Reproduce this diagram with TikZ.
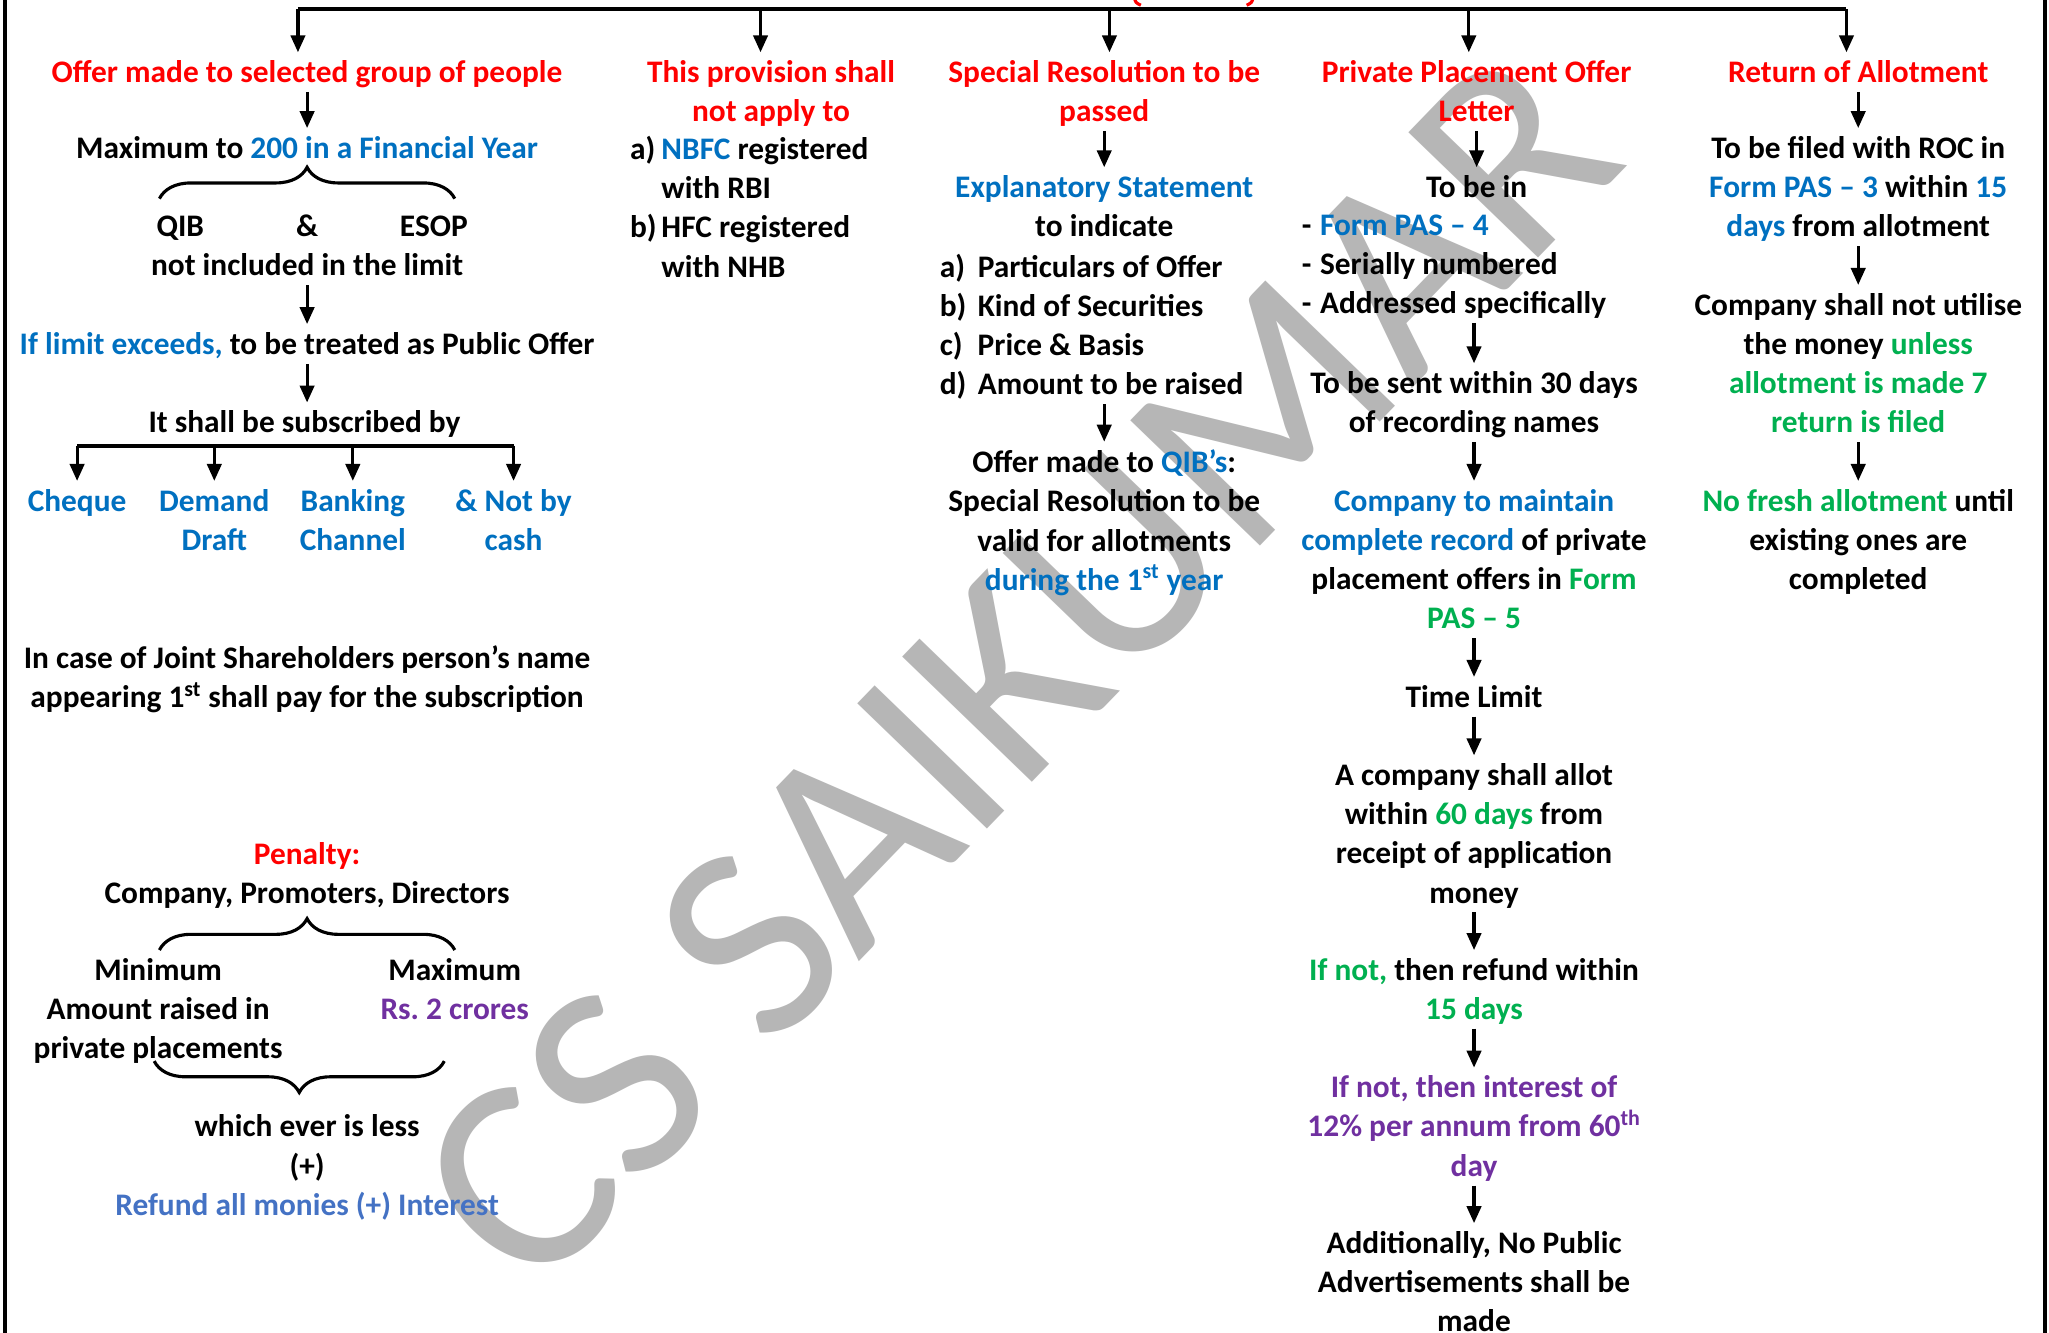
\documentclass[tikz,border=0pt]{standalone}
\usepackage{fontspec}
\setmainfont{Carlito}
\usetikzlibrary{arrows.meta,decorations.pathreplacing}
\definecolor{hred}{HTML}{FF0000}
\definecolor{hblue}{HTML}{0070C0}
\definecolor{hgreen}{HTML}{00B050}
\definecolor{hpurple}{HTML}{7030A0}
\definecolor{hsoft}{HTML}{4472C4}
\definecolor{wmgray}{HTML}{B6B6B6}
\newcommand\tb[1]{\textcolor{hblue}{#1}}
\newcommand\tg[1]{\textcolor{hgreen}{#1}}
\newcommand\tp[1]{\textcolor{hpurple}{#1}}
\newcommand\linestrut{\rule[-7pt]{0pt}{30pt}}
\newcommand\lbl[2]{\makebox[#1][l]{#2}}
\frenchspacing
\begin{document}
\begin{tikzpicture}[x=1pt,y=-1pt,
  txt/.style={font=\fontsize{24}{30}\selectfont\bfseries, align=center,
    inner sep=0pt, anchor=north,
    execute at begin node=\linestrut, execute at end node=\linestrut},
  ml/.style={yshift=-6pt},
  lst/.style={txt, ml, align=left, anchor=north west},
  head/.style={txt, text=hred},
  arr/.style={line width=2.4pt, -{Triangle[length=13pt,width=11pt]}},
  arrm/.style={arr, shorten >=6pt},
  bar/.style={line width=3.4pt},
  brc/.style={line width=2.4pt, decorate, decoration={brace, amplitude=24pt}},
  wm/.style={font=\fontsize{215}{215}\selectfont, text=wmgray, inner sep=0pt}]

\useasboundingbox (0,0) rectangle (1568,1020);
\fill[white] (0,0) rectangle (1568,1020);

% watermark behind everything
\node[wm, rotate=46] (wmk) at (778,512) {CS SAIKUMAR};

% frame sides
\draw[line width=3pt] (4,0) -- (4,1020);
\draw[line width=3pt] (1565,0) -- (1565,1020);

% tips of the title line above the bar
\draw[hred, line width=2.4pt] (868,-2) .. controls (869,2) .. (873,4);
\draw[hred, line width=2.4pt] (959,-2) .. controls (958,2) .. (954,4);

% ---------------- column 1 ----------------
\node[head] (h1) at (235,40) {Offer made to selected group of people};
\node[txt] (max) at (235,98) {Maximum to \tb{200 in a Financial Year}};
\coordinate (bLa) at (122,152);
\coordinate (bLb) at (348,152);
\node[txt] (qib) at (138,158) {QIB};
\node[txt] (amp) at (235,158) {\&};
\node[txt] (esop) at (332,158) {ESOP};
\node[txt] (notinc) at (235,188) {not included in the limit};
\node[txt] (exceed) at (235,248) {\tb{If limit exceeds,} to be treated as Public Offer};
\node[txt] (subs) at (233,308) {It shall be subscribed by};
\coordinate (br) at (233,341);
\node[txt, text=hblue] (cheque) at (59,368) {Cheque};
\node[txt, ml, text=hblue] (demand) at (164,368) {Demand\\Draft};
\node[txt, ml, text=hblue] (banking) at (270,368) {Banking\\Channel};
\node[txt, ml, text=hblue] (notcash) at (393,368) {\& Not by\\cash};
\node[txt, ml] (joint) at (235,488) {In case of Joint Shareholders person’s name\\appearing 1\textsuperscript{st} shall pay for the subscription};

\node[head] (pen) at (235,638) {Penalty:};
\node[txt] (cpd) at (235,668) {Company, Promoters, Directors};
\coordinate (pLa) at (122,727);
\coordinate (pLb) at (348,727);
\node[txt, ml] (mini) at (121,727) {Minimum\\Amount raised in\\private placements};
\node[txt, ml] (maxi) at (348,727) {Maximum\\\tp{Rs. 2 crores}};
\coordinate (qLa) at (118,812);
\coordinate (qLb) at (340,812);
\node[txt, ml] (less) at (235,847) {which ever is less\\(+)\\\textcolor{hsoft}{Refund all monies (+) Interest}};

% ---------------- column 2 ----------------
\node[head, ml] (h2) at (590,40) {This provision shall\\not apply to};
\node[lst] (l2) at (482,98) {\lbl{24pt}{a)}\tb{NBFC} registered\\\hspace*{24pt}with RBI\\\lbl{24pt}{b)}HFC registered\\\hspace*{24pt}with NHB};

% ---------------- column 3 ----------------
\node[head, ml] (h3) at (845,40) {Special Resolution to be\\passed};
\node[txt, ml] (expl) at (845,128) {\tb{Explanatory Statement}\\to indicate};
\node[lst] (l3) at (719,188) {\lbl{29pt}{a)}Particulars of Offer\\\lbl{29pt}{b)}Kind of Securities\\\lbl{29pt}{c)}Price \& Basis\\\lbl{29pt}{d)}Amount to be raised};
\node[txt, ml] (qibs) at (845,338) {Offer made to \tb{QIB’s}:\\Special Resolution to be\\valid for allotments\\\tb{during the 1\textsuperscript{st} year}};

% ---------------- column 4 ----------------
\node[head, ml] (h4) at (1130,40) {Private Placement Offer\\Letter};
\node[txt] (tobein) at (1130,128) {To be in};
\node[lst] (l4) at (996,158) {\lbl{14pt}{-}\tb{Form PAS – 4}\\\lbl{14pt}{-}Serially numbered\\\lbl{14pt}{-}Addressed specifically};
\node[txt, ml] (sent) at (1128,278) {To be sent within 30 days\\of recording names};
\node[txt, ml] (maint) at (1128,368) {\tb{Company to maintain}\\\tb{complete record} of private\\placement offers in \tg{Form}\\\tg{PAS – 5}};
\node[txt] (tlim) at (1128,518) {Time Limit};
\node[txt, ml] (allot) at (1128,578) {A company shall allot\\within \tg{60 days} from\\receipt of application\\money};
\node[txt, ml] (refund) at (1128,727) {\tg{If not,} then refund within\\\tg{15 days}};
\node[txt, ml, text=hpurple] (intr) at (1128,817) {If not, then interest of\\12\% per annum from 60\textsuperscript{th}\\day};
\node[txt, ml] (addl) at (1128,936) {Additionally, No Public\\Advertisements shall be\\made};

% ---------------- column 5 ----------------
\node[head] (h5) at (1422,40) {Return of Allotment};
\node[txt, ml] (roc) at (1422,98) {To be filed with ROC in\\\tb{Form PAS – 3} within \tb{15}\\\tb{days} from allotment};
\node[txt, ml] (util) at (1422,218) {Company shall not utilise\\the money \tg{unless}\\\tg{allotment is made 7}\\\tg{return is filed}};
\node[txt, ml] (fresh) at (1422,368) {\tg{No fresh allotment} until\\existing ones are\\completed};

% ---------------- top bar ----------------
\coordinate (t1) at (228,7);
\coordinate (t2) at (582,7);
\coordinate (t3) at (849,7);
\coordinate (t4) at (1124,7);
\coordinate (t5) at (1413,7);
\draw[bar] (t1) -- (t5);
\draw[arr] (t1) -- (t1 |- h1.north);
\draw[arrm] (t2) -- (t2 |- h2.north);
\draw[arrm] (t3) -- (t3 |- h3.north);
\draw[arrm] (t4) -- (t4 |- h4.north);
\draw[arr] (t5) -- (t5 |- h5.north);

% ---------------- connectors ----------------
\draw[arr] (h1.south) -- (h1.south |- max.north);
\draw[brc] (bLa) -- (bLb);
\draw[arr] (notinc.south) -- (notinc.south |- exceed.north);
\draw[arr] (exceed.south) -- (exceed.south |- subs.north);
\draw[bar, line width=3pt] (br -| cheque) -- (br -| notcash);
\draw[arr] (br -| cheque) -- (cheque.north);
\draw[arrm] (br -| demand) -- (demand.north);
\draw[arrm] (br -| banking) -- (banking.north);
\draw[arrm] (br -| notcash) -- (notcash.north);
\draw[brc] (pLa) -- (pLb);
\draw[brc] (qLb) -- (qLa);

\draw[arrm] (h3.south) -- (h3.south |- expl.north);
\draw[arrm] (l3.south -| qibs.north) -- (qibs.north);

\draw[arr] (h4.south) -- (h4.south |- tobein.north);
\draw[arrm] (l4.south -| sent.north) -- (sent.north);
\draw[arrm] (sent.south) -- (sent.south |- maint.north);
\draw[arr] (maint.south) -- (maint.south |- tlim.north);
\draw[arrm] (tlim.south) -- (tlim.south |- allot.north);
\draw[arrm] (allot.south) -- (allot.south |- refund.north);
\draw[arrm] (refund.south) -- (refund.south |- intr.north);
\draw[arrm] (intr.south) -- (intr.south |- addl.north);

\draw[arrm] (h5.south) -- (h5.south |- roc.north);
\draw[arrm] (roc.south) -- (roc.south |- util.north);
\draw[arrm] (util.south) -- (util.south |- fresh.north);
\end{tikzpicture}
\end{document}
